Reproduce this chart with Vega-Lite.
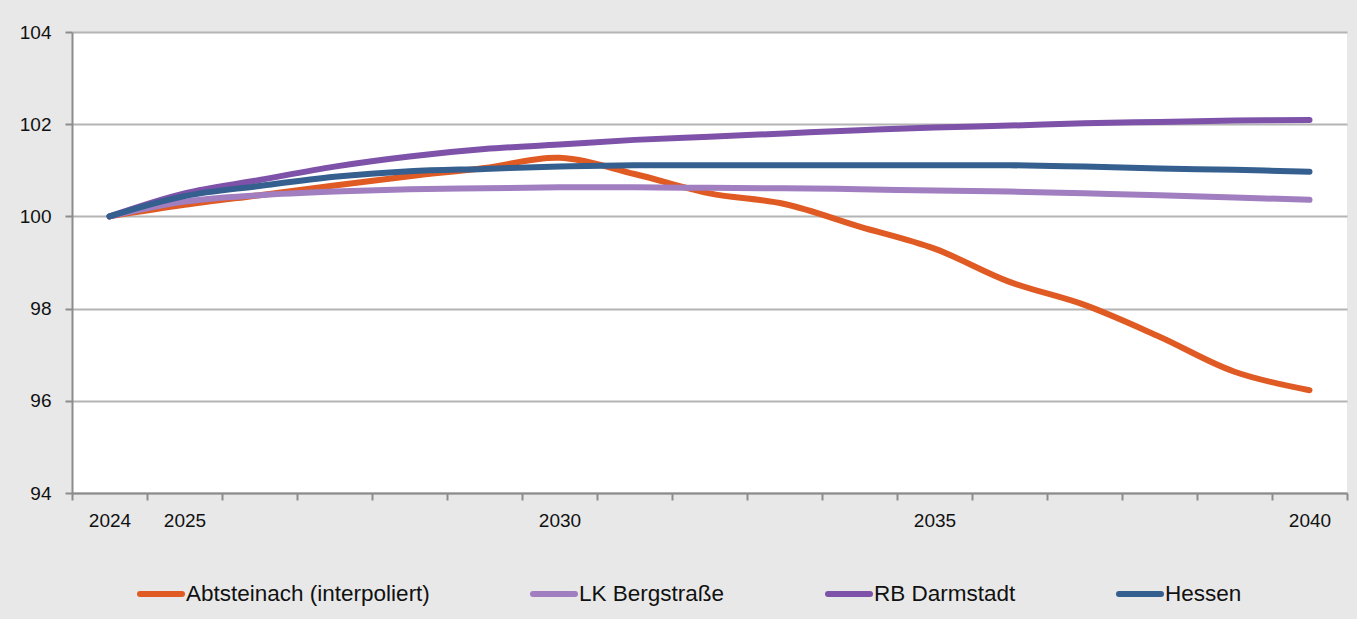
{
  "$schema": "https://vega.github.io/schema/vega-lite/v6.json",
  "width": 1275,
  "height": 461,
  "autosize": "none",
  "padding": {"left": 72, "top": 32, "right": 10, "bottom": 126},
  "background": "#e8e8e8",
  "config": {
    "view": {"fill": "white", "stroke": null},
    "font": "Liberation Sans, Arial, sans-serif"
  },
  "data": {
    "values": [
      {"year": 2024, "series": "Abtsteinach (interpoliert)", "value": 100},
      {"year": 2025, "series": "Abtsteinach (interpoliert)", "value": 100.25},
      {"year": 2026, "series": "Abtsteinach (interpoliert)", "value": 100.46},
      {"year": 2027, "series": "Abtsteinach (interpoliert)", "value": 100.67},
      {"year": 2028, "series": "Abtsteinach (interpoliert)", "value": 100.87},
      {"year": 2029, "series": "Abtsteinach (interpoliert)", "value": 101.05},
      {"year": 2030, "series": "Abtsteinach (interpoliert)", "value": 101.27},
      {"year": 2031, "series": "Abtsteinach (interpoliert)", "value": 100.92},
      {"year": 2032, "series": "Abtsteinach (interpoliert)", "value": 100.5},
      {"year": 2033, "series": "Abtsteinach (interpoliert)", "value": 100.27},
      {"year": 2034, "series": "Abtsteinach (interpoliert)", "value": 99.78},
      {"year": 2035, "series": "Abtsteinach (interpoliert)", "value": 99.3},
      {"year": 2036, "series": "Abtsteinach (interpoliert)", "value": 98.58},
      {"year": 2037, "series": "Abtsteinach (interpoliert)", "value": 98.08},
      {"year": 2038, "series": "Abtsteinach (interpoliert)", "value": 97.39},
      {"year": 2039, "series": "Abtsteinach (interpoliert)", "value": 96.63},
      {"year": 2040, "series": "Abtsteinach (interpoliert)", "value": 96.23},
      {"year": 2024, "series": "LK Bergstraße", "value": 100},
      {"year": 2025, "series": "LK Bergstraße", "value": 100.32},
      {"year": 2026, "series": "LK Bergstraße", "value": 100.46},
      {"year": 2027, "series": "LK Bergstraße", "value": 100.54},
      {"year": 2028, "series": "LK Bergstraße", "value": 100.59},
      {"year": 2029, "series": "LK Bergstraße", "value": 100.61},
      {"year": 2030, "series": "LK Bergstraße", "value": 100.63},
      {"year": 2031, "series": "LK Bergstraße", "value": 100.63},
      {"year": 2032, "series": "LK Bergstraße", "value": 100.62},
      {"year": 2033, "series": "LK Bergstraße", "value": 100.61},
      {"year": 2034, "series": "LK Bergstraße", "value": 100.59},
      {"year": 2035, "series": "LK Bergstraße", "value": 100.56},
      {"year": 2036, "series": "LK Bergstraße", "value": 100.54},
      {"year": 2037, "series": "LK Bergstraße", "value": 100.5},
      {"year": 2038, "series": "LK Bergstraße", "value": 100.46},
      {"year": 2039, "series": "LK Bergstraße", "value": 100.41},
      {"year": 2040, "series": "LK Bergstraße", "value": 100.36},
      {"year": 2024, "series": "RB Darmstadt", "value": 100},
      {"year": 2025, "series": "RB Darmstadt", "value": 100.5},
      {"year": 2026, "series": "RB Darmstadt", "value": 100.79},
      {"year": 2027, "series": "RB Darmstadt", "value": 101.08},
      {"year": 2028, "series": "RB Darmstadt", "value": 101.3},
      {"year": 2029, "series": "RB Darmstadt", "value": 101.46},
      {"year": 2030, "series": "RB Darmstadt", "value": 101.56},
      {"year": 2031, "series": "RB Darmstadt", "value": 101.66},
      {"year": 2032, "series": "RB Darmstadt", "value": 101.73},
      {"year": 2033, "series": "RB Darmstadt", "value": 101.8},
      {"year": 2034, "series": "RB Darmstadt", "value": 101.87},
      {"year": 2035, "series": "RB Darmstadt", "value": 101.93},
      {"year": 2036, "series": "RB Darmstadt", "value": 101.97},
      {"year": 2037, "series": "RB Darmstadt", "value": 102.02},
      {"year": 2038, "series": "RB Darmstadt", "value": 102.05},
      {"year": 2039, "series": "RB Darmstadt", "value": 102.08},
      {"year": 2040, "series": "RB Darmstadt", "value": 102.09},
      {"year": 2024, "series": "Hessen", "value": 100},
      {"year": 2025, "series": "Hessen", "value": 100.44},
      {"year": 2026, "series": "Hessen", "value": 100.66},
      {"year": 2027, "series": "Hessen", "value": 100.86},
      {"year": 2028, "series": "Hessen", "value": 100.98},
      {"year": 2029, "series": "Hessen", "value": 101.03},
      {"year": 2030, "series": "Hessen", "value": 101.08},
      {"year": 2031, "series": "Hessen", "value": 101.11},
      {"year": 2032, "series": "Hessen", "value": 101.11},
      {"year": 2033, "series": "Hessen", "value": 101.11},
      {"year": 2034, "series": "Hessen", "value": 101.11},
      {"year": 2035, "series": "Hessen", "value": 101.11},
      {"year": 2036, "series": "Hessen", "value": 101.11},
      {"year": 2037, "series": "Hessen", "value": 101.08},
      {"year": 2038, "series": "Hessen", "value": 101.04},
      {"year": 2039, "series": "Hessen", "value": 101.01},
      {"year": 2040, "series": "Hessen", "value": 100.97}
    ]
  },
  "mark": {"type": "line", "strokeWidth": 6, "strokeCap": "round", "strokeJoin": "round", "interpolate": "catmull-rom"},
  "encoding": {
    "x": {
      "field": "year",
      "type": "quantitative",
      "scale": {"domain": [2023.5, 2040.5], "nice": false, "zero": false},
      "axis": {
        "title": null,
        "grid": false,
        "values": [2023.5, 2024.5, 2025.5, 2026.5, 2027.5, 2028.5, 2029.5, 2030.5, 2031.5, 2032.5, 2033.5, 2034.5, 2035.5, 2036.5, 2037.5, 2038.5, 2039.5, 2040.5],
        "labelExpr": "indexof([2023.5, 2024.5, 2029.5, 2034.5, 2039.5], datum.value) >= 0 ? format(datum.value + 0.5, 'd') : ''",
        "labelOffset": 37.5,
        "labelOverlap": false,
        "labelBound": false,
        "labelFlush": false,
        "labelFontSize": 19,
        "labelColor": "#111111",
        "labelPadding": 11,
        "labelBaseline": "top",
        "tickSize": 7,
        "tickWidth": 2,
        "tickColor": "#8c8c8c",
        "domainColor": "#8c8c8c",
        "domainWidth": 2
      }
    },
    "y": {
      "field": "value",
      "type": "quantitative",
      "scale": {"domain": [94, 104], "nice": false, "zero": false},
      "axis": {
        "title": null,
        "values": [94, 96, 98, 100, 102, 104],
        "grid": true,
        "gridColor": "#b4b4b4",
        "gridWidth": 2,
        "labelFontSize": 19,
        "labelColor": "#111111",
        "labelPadding": 14,
        "tickSize": 7,
        "tickWidth": 2,
        "tickColor": "#8c8c8c",
        "domainColor": "#8c8c8c",
        "domainWidth": 2
      }
    },
    "color": {
      "field": "series",
      "type": "nominal",
      "scale": {
        "domain": ["Abtsteinach (interpoliert)", "LK Bergstraße", "RB Darmstadt", "Hessen"],
        "range": ["#E05A24", "#A07EC0", "#7D52A8", "#355F8E"]
      },
      "legend": {
        "title": null,
        "orient": "none",
        "direction": "horizontal",
        "legendX": 65,
        "legendY": 538,
        "symbolType": "stroke",
        "symbolSize": 1764,
        "symbolStrokeWidth": 6,
        "labelFontSize": 22.5,
        "labelLimit": 0,
        "labelColor": "#111111",
        "labelOffset": 1,
        "columnPadding": 91,
        "encode": {"symbols": {"update": {"strokeCap": {"value": "round"}}}}
      }
    }
  }
}
